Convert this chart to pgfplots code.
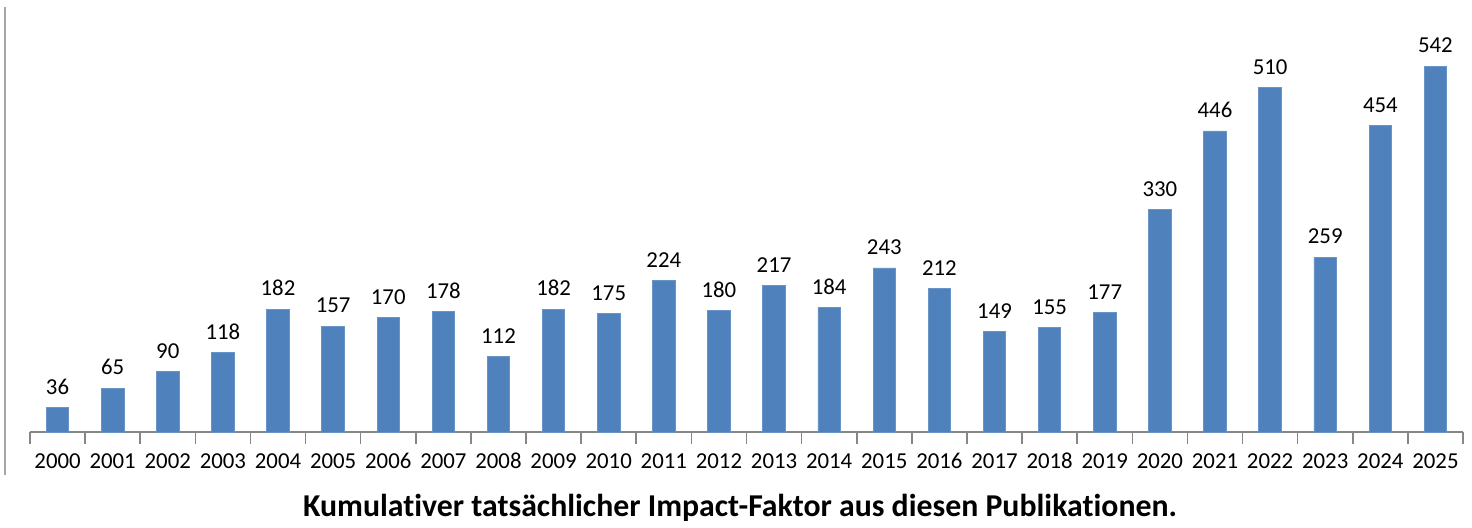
\documentclass[border=0pt]{standalone}
\usepackage{pgfplots}
\pgfplotsset{compat=1.18}
\usepackage{fontspec}
\setmainfont{Carlito}[Ligatures=NoCommon]
\definecolor{barblue}{HTML}{4F81BD}
\definecolor{axgrey}{HTML}{868686}
\begin{document}
\begin{tikzpicture}
\begin{axis}[
  name=main,
  scale only axis,
  width=716.5pt, height=216pt,
  xmin=-0.5, xmax=25.5,
  ymin=0, ymax=640,
  /pgf/number format/assume math mode=true,
  axis y line=none,
  axis x line=bottom,
  axis line style={-, draw=axgrey, line width=0.8pt},
  xtick={0,...,25},
  xticklabels={2000,2001,2002,2003,2004,2005,2006,2007,2008,2009,2010,2011,2012,2013,2014,2015,2016,2017,2018,2019,2020,2021,2022,2023,2024,2025},
  major tick length=0pt,
  xticklabel style={font=\fontsize{11.4}{13}\selectfont, text height=1.5ex, text depth=0.25ex, yshift=-7.8pt},
  extra x ticks={-0.5,0.5,...,25.5},
  extra x tick labels={},
  extra x tick style={major tick length=6pt, tick pos=bottom, tick align=outside, tick style={draw=axgrey, line width=0.8pt}},
  ybar, bar width=11.25pt,
  nodes near coords,
  every node near coord/.append style={font=\fontsize{11.4}{13}\selectfont, yshift=3pt},
  clip=false,
]
\addplot[fill=barblue, draw=barblue!85!white] coordinates {
(0,36) (1,65) (2,90) (3,118) (4,182) (5,157) (6,170) (7,178) (8,112) (9,182)
(10,175) (11,224) (12,180) (13,217) (14,184) (15,243) (16,212) (17,149) (18,155) (19,177)
(20,330) (21,446) (22,510) (23,259) (24,454) (25,542)};
\end{axis}
\draw[draw=gray!70, line width=1pt] ([xshift=-12.5pt,yshift=-3.5pt]main.north west) -- ([xshift=-12.5pt,yshift=-21.5pt]main.south west);
\node[font=\bfseries\fontsize{15.9}{18}\selectfont] at ([xshift=355pt,yshift=-37.8pt]main.south west) {Kumulativer tatsächlicher Impact-Faktor aus diesen Publikationen.};
\path[use as bounding box] ([xshift=-15pt,yshift=-44.5pt]main.south west) rectangle ([xshift=4.5pt]main.north east);
\end{tikzpicture}
\end{document}
